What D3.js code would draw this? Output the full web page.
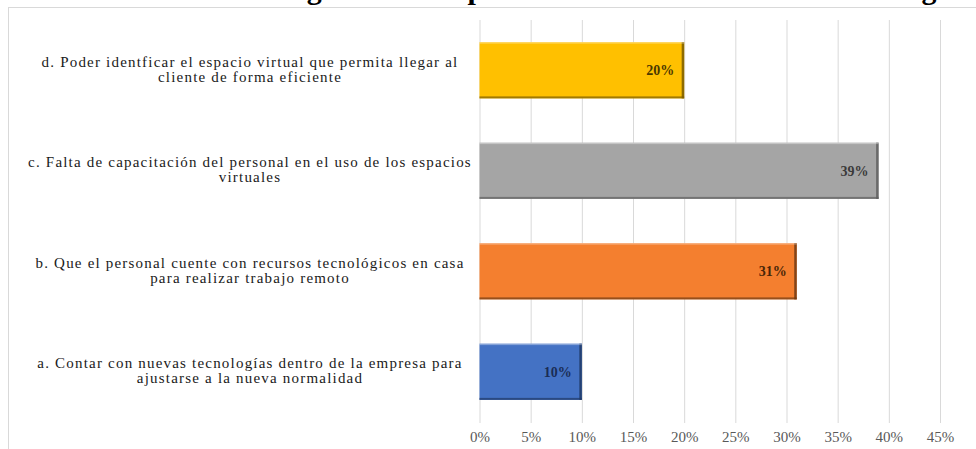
<!DOCTYPE html>
<html><head><meta charset="utf-8">
<script src="https://cdn.jsdelivr.net/npm/d3@7"></script>
<style>body{margin:0;background:#fff;}svg{display:block;}</style>
</head><body>
<svg id="c" width="976" height="449"></svg>
<script>
const categories = [
  ["d. Poder identficar el espacio virtual que permita llegar al", "cliente de forma eficiente"],
  ["c. Falta de capacitación del personal en el uso de los espacios", "virtuales"],
  ["b. Que el personal cuente con recursos tecnológicos en casa", "para realizar trabajo remoto"],
  ["a. Contar con nuevas tecnologías dentro de la empresa para", "ajustarse a la nueva normalidad"]
];
const values = [0.20, 0.39, 0.31, 0.10];
const valueLabels = ["20%", "39%", "31%", "10%"];
const colors = ["#FFC000", "#A5A5A5", "#F47F2F", "#4472C4"];
const edgeColors = ["#7a5c00", "#5f5f5f", "#6e3a14", "#1f3866"];
const labelColors = ["#4a3800", "#3a3a3a", "#4a2608", "#1a2d55"];
const ticks = [0, 0.05, 0.10, 0.15, 0.20, 0.25, 0.30, 0.35, 0.40, 0.45];
const title = "Imagen 3. Principales desafíos de la variable tecnológica";

(function() {
const svg = d3.select("#c");
const pLeft = 479.5, pRight = 940, pTop = 20, pBottom = 422;
const serif = "'Liberation Serif', 'Times New Roman', serif";

svg.append("rect").attr("x", 8.5).attr("y", 7.5).attr("width", 980).attr("height", 460)
  .attr("fill", "#fff").attr("stroke", "#d9d9d9");

svg.append("text").attr("x", 255).attr("y", -1)
  .attr("font-family", serif).attr("font-weight", "bold")
  .attr("font-size", 30).attr("fill", "#000").text(title);

const x = d3.scaleLinear().domain([0, 0.45]).range([pLeft, pRight]);
const y = d3.scaleBand().domain(d3.range(categories.length)).range([pTop, pBottom]).paddingInner(0.44).paddingOuter(0.22);

svg.append("g").selectAll("line").data(ticks).join("line")
  .attr("x1", d => x(d) + 0.5).attr("x2", d => x(d) + 0.5)
  .attr("y1", pTop).attr("y2", pBottom + 1)
  .attr("stroke", "#d9d9d9").attr("stroke-width", 1);

const xAxis = d3.axisBottom(x).tickValues(ticks).tickSize(0).tickFormat(d3.format(".0%"));
const gx = svg.append("g").attr("transform", `translate(0,${pBottom + 6})`).call(xAxis);
gx.select(".domain").remove();
gx.selectAll("text").attr("font-family", serif).attr("font-size", 15)
  .attr("fill", "#595959").attr("font-weight", "normal");

const bars = svg.append("g").selectAll("g").data(values).join("g");
bars.append("rect")
  .attr("x", x(0)).attr("y", (d, i) => y(i))
  .attr("width", d => x(d) - x(0)).attr("height", y.bandwidth())
  .attr("fill", (d, i) => colors[i]);
bars.append("rect")
  .attr("x", d => x(d) - 2.5).attr("y", (d, i) => y(i))
  .attr("width", 2.5).attr("height", y.bandwidth())
  .attr("fill", (d, i) => edgeColors[i]).attr("opacity", 0.85);
bars.append("rect")
  .attr("x", x(0)).attr("y", (d, i) => y(i) + y.bandwidth() - 2)
  .attr("width", d => x(d) - x(0)).attr("height", 2)
  .attr("fill", (d, i) => edgeColors[i]).attr("opacity", 0.7);
bars.append("rect")
  .attr("x", x(0)).attr("y", (d, i) => y(i))
  .attr("width", d => x(d) - x(0)).attr("height", 1.5)
  .attr("fill", "#fff").attr("opacity", 0.35);

bars.append("text")
  .attr("x", d => x(d) - 10).attr("y", (d, i) => y(i) + y.bandwidth() / 2 + 2)
  .attr("text-anchor", "end").attr("dominant-baseline", "middle")
  .attr("font-family", serif).attr("font-weight", "bold").attr("font-size", 14)
  .attr("fill", (d, i) => labelColors[i]).text((d, i) => valueLabels[i]);

const lab = svg.append("g").selectAll("text").data(categories).join("text")
  .attr("font-family", serif).attr("font-weight", "normal").attr("font-size", 15)
  .attr("fill", "#1a1a1a").attr("text-anchor", "middle")
  .attr("letter-spacing", 1.2);
lab.each(function(lines, i) {
  const cy = y(i) + y.bandwidth() / 2;
  d3.select(this).selectAll("tspan").data(lines).join("tspan")
    .attr("x", 250).attr("y", (l, j) => cy - 7.5 + j * 15 + 4).text(l => l);
});
})();
</script>
</body></html>
